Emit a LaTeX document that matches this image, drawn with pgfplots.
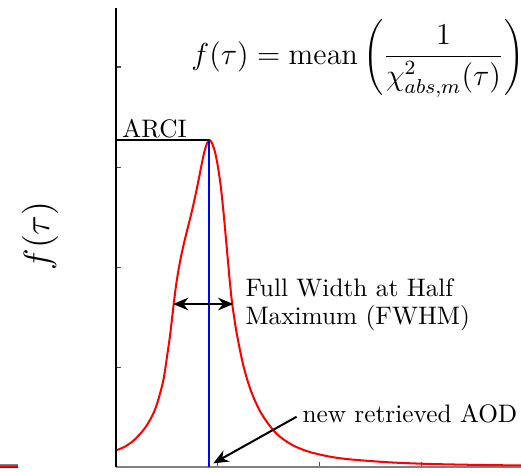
\documentclass[border=0pt]{standalone}
\usepackage{pgfplots}
\pgfplotsset{compat=1.18}
\usetikzlibrary{arrows.meta}

% f(tau) curve (x: tick units, y: tick units)
\pgfplotstableread{
x y
0.0098 0.170
0.0882 0.205
0.1667 0.260
0.2353 0.330
0.2843 0.390
0.3333 0.470
0.3725 0.550
0.4020 0.630
0.4412 0.770
0.4706 0.900
0.5000 1.100
0.5294 1.310
0.5490 1.480
0.5686 1.650
0.5882 1.810
0.6078 1.940
0.6275 2.050
0.6471 2.150
0.6765 2.280
0.7059 2.400
0.7353 2.520
0.7647 2.650
0.7941 2.790
0.8235 2.940
0.8529 3.090
0.8725 3.175
0.8922 3.235
0.9147 3.270
0.9363 3.250
0.9559 3.200
0.9755 3.130
1.0000 3.000
1.0294 2.790
1.0588 2.500
1.0882 2.170
1.1176 1.840
1.1373 1.650
1.1569 1.510
1.1814 1.350
1.2157 1.170
1.2500 1.010
1.2941 0.850
1.3431 0.710
1.4118 0.560
1.4804 0.450
1.5588 0.350
1.6373 0.280
1.7549 0.207
1.9020 0.150
2.0980 0.104
2.2941 0.077
2.6863 0.047
3.0784 0.031
3.5686 0.021
3.9706 0.016
}\fcurve

\begin{document}
\begin{tikzpicture}
\begin{axis}[
  scale only axis, width=160.1pt, height=181.5pt,
  xmin=0, xmax=3.97, ymin=0, ymax=4.59,
  axis x line*=bottom, axis y line*=left,
  x axis line style={gray, line width=0.8pt},
  y axis line style={black, line width=0.6pt},
  xtick={1,2,3}, ytick={1,2,3,4},
  xticklabels={}, yticklabels={},
  tick align=inside, major tick length=2pt,
  tick style={black!70, line width=0.4pt},
  clip=false,
]
\addplot[red, line width=0.8pt, smooth, no marks] table {\fcurve};
\addplot[color=blue, line width=0.7pt, no marks] coordinates {(0.91,0) (0.91,3.27)};
\addplot[black, line width=0.8pt, no marks] coordinates {(0,3.27) (0.91,3.27)};

\node[anchor=base west, inner sep=0pt] at (axis cs:0.059,3.30) {ARCI};
\node at (axis cs:2.37,4.09) {\large $\displaystyle f(\tau) = \mathrm{mean}\left(\frac{1}{\chi^2_{abs,m}(\tau)}\right)$};
\node[rotate=90] at (axis cs:-0.745,2.31) {\Large $f(\tau)$};

\draw[{Stealth[length=6pt,width=5pt]}-{Stealth[length=6pt,width=5pt]}, line width=0.8pt]
  (axis cs:0.561,1.63) -- (axis cs:1.150,1.63);
\node[anchor=base west, inner sep=0pt] at (axis cs:1.265,1.71) {Full Width at Half};
\node[anchor=base west, inner sep=0pt] at (axis cs:1.265,1.43) {Maximum (FWHM)};

\draw[-{Stealth[length=6pt,width=5pt]}, line width=0.8pt]
  (axis cs:1.771,0.503) -- (axis cs:0.954,0.037);
\node[anchor=base west, inner sep=0pt] at (axis cs:1.824,0.45) {new retrieved AOD};

% cropped fragment of a neighbouring figure
\draw[gray, line width=0.4pt] (axis cs:-1.137,0.03) -- (axis cs:-0.961,0.03);
\draw[gray!70!blue, line width=0.4pt] (axis cs:-1.137,0.018) -- (axis cs:-0.961,0.018);
\draw[red, line width=0.4pt] (axis cs:-1.137,0.006) -- (axis cs:-0.961,0.006);
\draw[red!50!black, line width=0.4pt] (axis cs:-1.137,-0.006) -- (axis cs:-0.961,-0.006);

\coordinate (bbsw) at (axis cs:-1.137,-0.04);
\coordinate (bbne) at (axis cs:3.971,4.67);
\end{axis}
\pgfresetboundingbox
\path[use as bounding box] (bbsw) rectangle (bbne);
\end{tikzpicture}
\end{document}
